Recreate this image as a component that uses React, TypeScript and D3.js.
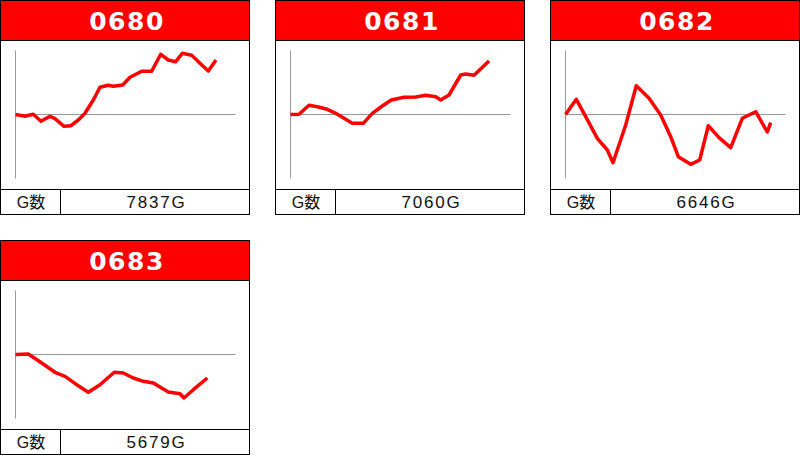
import * as d3 from "d3";

const machineIds = ["0680", "0681", "0682", "0683"];
const gameCounts = ["7837G", "7060G", "6646G", "5679G"];
const footerLabel = "G数";

// [games, coin difference]
const slump0680: [number, number][] = [
  [0, 0], [380, -90], [712, 10], [1020, -340], [1380, -90], [1580, -210],
  [1940, -590], [2220, -560], [2512, -275], [2780, 60], [3112, 725],
  [3380, 1360], [3712, 1460], [3912, 1410], [4288, 1475], [4580, 1860],
  [5048, 2160], [5448, 2160], [5808, 3010], [6112, 2725], [6408, 2640],
  [6672, 3060], [7048, 2960], [7380, 2560], [7712, 2175], [8020, 2725],
];

const slump0681: [number, number][] = [
  [0, 0], [340, 10], [740, 460], [1072, 390], [1472, 260], [1808, 60],
  [2140, -190], [2472, -440], [2912, -440], [3272, 60], [3672, 425],
  [4032, 725], [4540, 860], [5008, 875], [5408, 960], [5808, 890],
  [6008, 725], [6340, 975], [6808, 1975], [7008, 2025], [7340, 1960],
  [7940, 2675],
];

const slump0682: [number, number][] = [
  [0, 0], [432, 760], [808, -110], [1272, -1190], [1672, -1775],
  [1900, -2410], [2408, -525], [2832, 1440], [3340, 810], [3808, -25],
  [4208, -1110], [4512, -2110], [5008, -2490], [5368, -2275], [5712, -560],
  [6140, -1160], [6608, -1660], [7072, -190], [7608, 140], [8072, -875],
  [8208, -410],
];

const slump0683: [number, number][] = [
  [0, 0], [512, 25], [1048, -425], [1580, -890], [1980, -1090],
  [2448, -1510], [2912, -1890], [3380, -1510], [3952, -890], [4312, -925],
  [4712, -1175], [5112, -1340], [5512, -1425], [6112, -1875], [6580, -1960],
  [6740, -2175], [7112, -1760], [7672, -1175],
];

const slumpSeries = [slump0680, slump0681, slump0682, slump0683];

const gameDomain: [number, number] = [0, 8800];
const coinDomain: [number, number] = [-3200, 3200];

const PANEL_W = 250;
const PANEL_H = 215;
const HEADER_H = 40;
const FOOTER_TOP = 189;
const LABEL_W = 60;

const x = d3.scaleLinear().domain(gameDomain).range([15.5, 235.5]);
const y = d3.scaleLinear().domain(coinDomain).range([178.5, 50.5]);

const line = d3
  .line<[number, number]>()
  .x((d) => x(d[0]))
  .y((d) => y(d[1]));

function Panel({
  id,
  games,
  data,
  left,
  top,
}: {
  id: string;
  games: string;
  data: [number, number][];
  left: number;
  top: number;
}) {
  return (
    <g transform={`translate(${left},${top})`}>
      <rect x={0} y={0} width={PANEL_W} height={HEADER_H} fill="#ff0000" />
      <text
        x={PANEL_W / 2 + 2}
        y={30}
        textAnchor="middle"
        fill="#fff"
        fontFamily="'DejaVu Sans', sans-serif"
        fontWeight="bold"
        fontSize={25}
        letterSpacing={1.5}
      >
        {id}
      </text>

      {/* axes */}
      <line
        x1={x(0)}
        x2={x(0)}
        y1={y(coinDomain[1])}
        y2={y(coinDomain[0])}
        stroke="#999"
        strokeWidth={1}
      />
      <line
        x1={x(0)}
        x2={x(gameDomain[1])}
        y1={y(0)}
        y2={y(0)}
        stroke="#999"
        strokeWidth={1}
      />

      <path
        d={line(data) ?? ""}
        fill="none"
        stroke="#ff0000"
        strokeWidth={3.5}
        strokeLinejoin="round"
      />

      {/* frame */}
      <rect
        x={0.5}
        y={0.5}
        width={PANEL_W - 1}
        height={PANEL_H - 1}
        fill="none"
        stroke="#000"
      />
      <line x1={0} x2={PANEL_W} y1={HEADER_H + 0.5} y2={HEADER_H + 0.5} stroke="#000" />
      <line x1={0} x2={PANEL_W} y1={FOOTER_TOP + 0.5} y2={FOOTER_TOP + 0.5} stroke="#000" />
      <line
        x1={LABEL_W + 0.5}
        x2={LABEL_W + 0.5}
        y1={FOOTER_TOP}
        y2={PANEL_H}
        stroke="#000"
      />

      <text
        x={LABEL_W / 2 + 1}
        y={208}
        textAnchor="middle"
        fill="#111"
        fontFamily="'Liberation Sans', 'Noto Sans CJK JP', sans-serif"
        fontSize={16}
      >
        {footerLabel}
      </text>
      <text
        x={(LABEL_W + PANEL_W) / 2 + 1.5}
        y={208}
        textAnchor="middle"
        fill="#111"
        fontFamily="'Liberation Sans', sans-serif"
        fontSize={17}
        letterSpacing={1.8}
      >
        {games}
      </text>
    </g>
  );
}

export default function App() {
  return (
    <svg
      width={800}
      height={455}
      style={{ position: "absolute", left: 0, top: 0, background: "#fff" }}
    >
      {machineIds.map((id, i) => (
        <Panel
          key={id}
          id={id}
          games={gameCounts[i]}
          data={slumpSeries[i]}
          left={(i % 3) * 275}
          top={Math.floor(i / 3) * 240}
        />
      ))}
    </svg>
  );
}
